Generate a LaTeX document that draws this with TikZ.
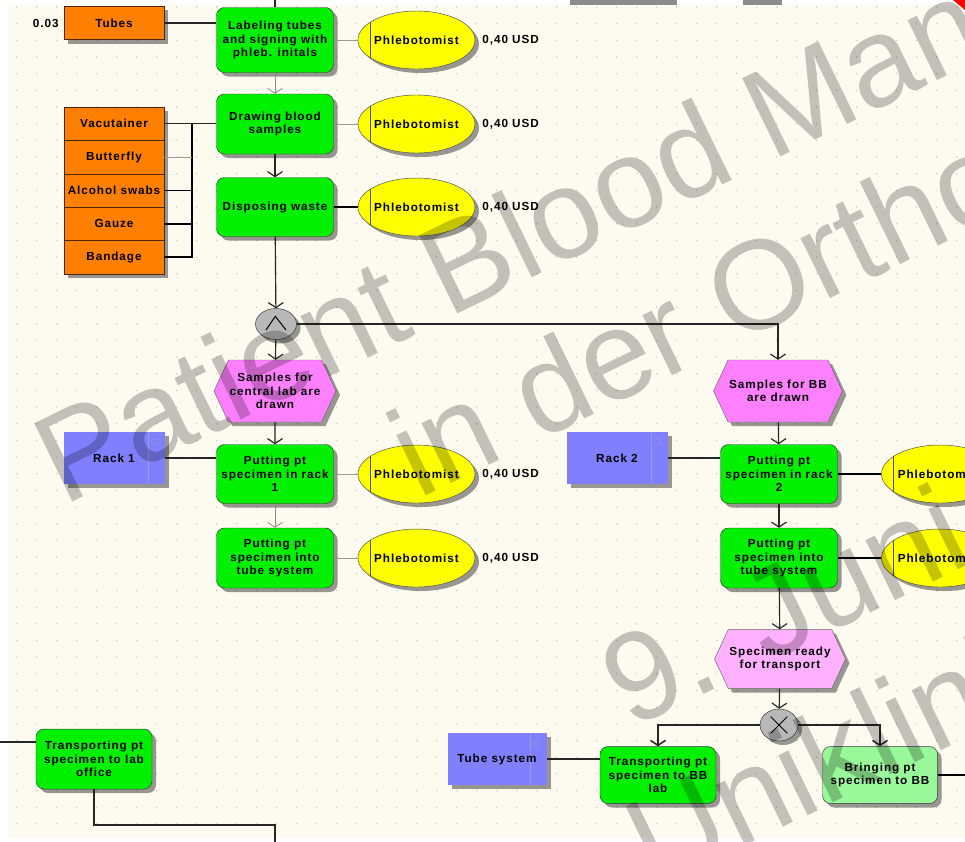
\documentclass[tikz,border=0pt]{standalone}
\usepackage{fontspec}
\usetikzlibrary{positioning,shapes.geometric,shapes.symbols,shadows,arrows.meta}

\newfontfamily\epcfont[LetterSpace=8]{Liberation Sans}
\newfontfamily\wmfont{Liberation Sans}

\definecolor{canvas}{HTML}{FDFAF0}
\definecolor{dotgray}{HTML}{CFCBC4}
\definecolor{fnGreen}{HTML}{00F000}
\definecolor{fnLight}{HTML}{99F899}
\definecolor{evPink}{HTML}{FF80FF}
\definecolor{evLight}{HTML}{FFB0FF}
\definecolor{roleYellow}{HTML}{FFFF00}
\definecolor{matOrange}{HTML}{FF8000}
\definecolor{sysBlue}{HTML}{8080FF}
\definecolor{opGray}{HTML}{B8B8B8}

\newcommand{\phleb}{\makebox[0pt]{Phlebotomist}}

\tikzset{
  boxshadow/.style={drop shadow={shadow xshift=1.2mm, shadow yshift=-1.2mm, fill=black, opacity=0.4}},
  func/.style={boxshadow, draw=black!80, fill=fnGreen, rounded corners=2.4mm,
    minimum width=35.1mm, minimum height=18mm, align=center, inner sep=0pt},
  event/.style={boxshadow, draw=black!60, fill=evPink, shape=signal, signal to=west and east,
    signal pointer angle=130, minimum width=35.1mm, minimum height=18.6mm, align=center, inner sep=1pt},
  role/.style={boxshadow, ellipse, draw=black!70, fill=roleYellow, minimum width=35.1mm,
    minimum height=17.4mm, inner sep=0pt,
    path picture={\draw[black!70] ([xshift=3.6mm]path picture bounding box.north west)
      -- ([xshift=3.6mm]path picture bounding box.south west);}},
  mat/.style={boxshadow, draw=black!70!orange, fill=matOrange, minimum width=30mm,
    minimum height=10mm, inner sep=0pt},
  sys/.style={boxshadow, fill=sysBlue, minimum width=30.3mm, minimum height=15.6mm, inner sep=0pt,
    path picture={\draw[sysBlue!70!black!60] ([xshift=-4.8mm]path picture bounding box.north east)
      -- ([xshift=-4.8mm]path picture bounding box.south east);
      \draw[sysBlue!70!black!60] ([shift={(-3mm,-3mm)}]path picture bounding box.north east) circle (0.9mm);}},
  op/.style={boxshadow, ellipse, draw=black!80, fill=opGray, minimum width=12.3mm,
    minimum height=9.3mm, inner sep=0pt},
  cost/.style={inner sep=0pt},
  flow/.style={draw=black!85, line width=0.35mm, -{Straight Barb[length=1.5mm,width=4.5mm]}},
  flowthin/.style={flow, draw=black!45, line width=0.25mm},
  link/.style={draw=black!85, line width=0.35mm},
  linkbold/.style={draw=black, line width=0.5mm},
  linkthin/.style={draw=black!40, line width=0.25mm},
  wm/.style={text=black, text opacity=0.23, font=\wmfont\fontsize{108}{108}\selectfont,
    rotate=26, anchor=base west, inner sep=0pt}
}

\begin{document}
\begin{tikzpicture}[x=0.3mm, y=-0.3mm,
  every node/.style={font=\epcfont\bfseries\fontsize{10}{11.5}\selectfont}]

\useasboundingbox (0,0) rectangle (965,841);
\clip (0,0) rectangle (965,841);
\fill[white] (0,0) rectangle (965,841);
\fill[canvas] (8,5) rectangle (965,838);

% dotted grid of the modelling canvas
\foreach \i in {0,...,47}
  \foreach \j in {0,...,49}
    \fill[dotgray] (16.7+20*\i, 7+16.67*\j) circle (0.25mm);

% cut-off objects above the view
\fill[black!45] (570,0) rectangle (677,5);
\fill[black!45] (743,0) rectangle (782,5);

% Left branch: preparing and drawing
\node[func, minimum height=19.5mm] (lab) at (275,40) {Labeling tubes\\and signing with\\phleb. initals};
\node[mat] (tubes) at (114,23) {Tubes};
\node[cost, left=1.5mm of tubes] (qty) {0.03};
\node[role, right=7.2mm of lab] (ph1) {\phleb};
\node[cost, right=2.1mm of ph1] (c1) {0,40 USD};

\node[func] (drw) at (275,124) {Drawing blood\\samples};
\node[role, right=7.2mm of drw] (ph2) {\phleb};
\node[cost, right=2.1mm of ph2] (c2) {0,40 USD};

\node[func, minimum height=17.7mm] (disp) at (275,207) {Disposing waste};
\node[role, right=7.2mm of disp] (ph3) {\phleb};
\node[cost, right=2.1mm of ph3] (c3) {0,40 USD};

% Materials
\foreach \k/\t [count=\c] in {vac/Vacutainer, but/Butterfly, alc/Alcohol swabs, gau/Gauze, ban/Bandage}
  \node[mat] (\k) at (114, 90.3+33.4*\c) {\t};
\coordinate (bar) at (192,124);

% AND split
\node[op] (and) at (276,324) {};
\draw[line width=0.3mm] ([shift={(-3mm,-1.8mm)}]and.center) -- ([shift={(-0.2mm,2.3mm)}]and.center)
  -- ([shift={(3mm,-1.8mm)}]and.center);

\node[event] (evC) at (275,391) {Samples for\\central lab are\\drawn};
\node[event, minimum width=34.5mm] (evB) at (778,391) {Samples for BB\\are drawn};

% Central lab branch
\node[sys] (rack1) at (114,458) {Rack 1};
\node[func, minimum height=17.7mm] (put1) at (275,474) {Putting pt\\specimen in rack\\1};
\node[role, right=7.2mm of put1] (ph4) {\phleb};
\node[cost, right=2.1mm of ph4] (c4) {0,40 USD};

\node[func] (tub1) at (275,558) {Putting pt\\specimen into\\tube system};
\node[role, right=7.2mm of tub1] (ph5) {\phleb};
\node[cost, right=2.1mm of ph5] (c5) {0,40 USD};

% Blood bank branch
\node[sys] (rack2) at (617,458) {Rack 2};
\node[func, minimum height=17.7mm] (put2) at (779,474) {Putting pt\\specimen in rack\\2};
\node[role] (ph6) at (940,474) {\phleb};
\node[func] (tub2) at (779,558) {Putting pt\\specimen into\\tube system};
\node[role] (ph7) at (940,558) {\phleb};

\node[event, fill=evLight, minimum width=36mm, minimum height=17.7mm] (ready) at (780,659) {Specimen ready\\for transport};

% XOR split
\node[op, minimum width=11.4mm, minimum height=9.6mm] (xor) at (779,725) {};
\draw[line width=0.3mm] ([shift={(-2.5mm,-2.5mm)}]xor.center) -- ([shift={(2.5mm,2.5mm)}]xor.center);
\draw[line width=0.3mm] ([shift={(-2.5mm,2.5mm)}]xor.center) -- ([shift={(2.5mm,-2.5mm)}]xor.center);

\node[sys, minimum width=29.7mm] (tsys) at (497,759) {Tube system};
\node[func, minimum width=34.8mm, minimum height=17.1mm] (trBB) at (658,775) {Transporting pt\\specimen to BB\\lab};
\node[func, fill=fnLight, minimum width=34.5mm, minimum height=17.1mm] (bring) at (880,775) {Bringing pt\\specimen to BB};

% Lab office
\node[func, minimum width=34.8mm] (trLab) at (94,759) {Transporting pt\\specimen to lab\\office};

% Free ends
\coordinate (inT) at (275,-5);
\coordinate (inL) at (0,742);
\coordinate (bend) at (275,825);
\coordinate (outB) at (275,850);
\coordinate (outR) at (975,775);

% Control flow
\draw[link] (inT) -- (lab);
\draw[flowthin] (lab) -- (drw);
\draw[flow] (drw) -- (disp);
\draw[flow] (disp) -- (and);
\draw[flow] (and) -- (evC);
\draw[flow] (and) -| (evB);
\draw[flow] (evC) -- (put1);
\draw[flowthin] (put1) -- (tub1);
\draw[flow] (evB) -- (put2);
\draw[flow] (put2) -- (tub2);
\draw[flow] (tub2) -- (ready);
\draw[flow] (ready) -- (xor);
\draw[flow, line width=0.45mm] (xor) -| (trBB);
\draw[flow, line width=0.45mm] (xor) -| (bring);
\draw[link] (inL) -- (inL -| trLab.west);
\draw[link] (trLab) |- (bend) -- (outB);

% Resources and roles
\draw[link] (tubes) -- (tubes -| lab.west);
\draw[link] (vac) -- (vac -| drw.west);
\draw[linkbold] (ban.east) -| (bar);
\draw[linkthin] (but.east) -- (but.east -| bar);
\draw[linkbold] (alc.east) -- (alc.east -| bar);
\draw[linkbold] (gau.east) -- (gau.east -| bar);
\draw[linkthin] (lab) -- (ph1);
\draw[linkthin] (drw) -- (ph2);
\draw[linkbold] (disp) -- (ph3);
\draw[link] (rack1) -- (rack1 -| put1.west);
\draw[linkthin] (put1) -- (ph4);
\draw[linkthin] (tub1) -- (ph5);
\draw[link] (rack2) -- (rack2 -| put2.west);
\draw[linkbold] (put2) -- (ph6);
\draw[linkbold] (tub2) -- (ph7);
\draw[link] (tsys) -- (tsys -| trBB.west);
\draw[linkbold] (bring) -- (outR);

% Watermark
\node[wm] (wm1) at (63,507) {Patient Blood Man};
\node[wm] (wm2) at (418,500) {in der Ortho};
\node[wm] (wm3) at (630,730) {9. Juni};
\node[wm] (wm4) at (655,890) {Uniklinik};

\fill[red] (953,0) -- (965,0) -- (965,10) -- cycle;

\end{tikzpicture}
\end{document}
